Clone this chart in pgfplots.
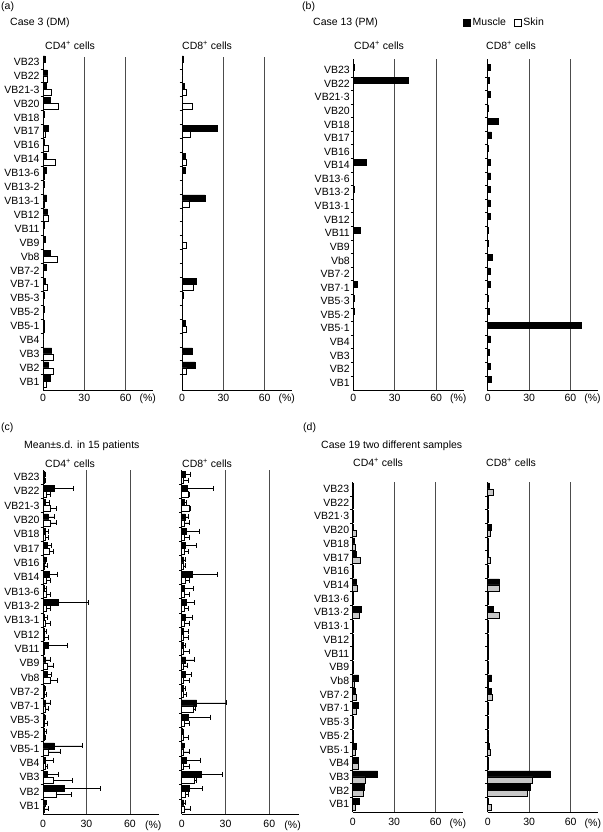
\documentclass[border=0pt]{standalone}
\usepackage{fontspec}
\setmainfont{Liberation Sans}
\usepackage{pgfplots}
\usepackage{pgfplotstable}
\pgfplotsset{compat=1.18}

\newcommand\fs{\fontsize{10.5pt}{12pt}\selectfont}

% rows: 1 = VB1 (bottom) ... 24 = VB23 (top)
\pgfplotstableread{
y m4 s4 m8 s8
1 5.3 2.4 0.3 0.3
2 3.9 7.7 9.4 3.4
3 6.3 7.5 7.5 0.5
4 0.5 0.5 0.3 0.3
5 0.7 1.2 2.0 3.0
6 1.0 0.5 0.5 0.3
7 1.0 0.5 0.7 0.3
8 1.5 3.4 10.4 8.2
9 2.7 0.5 0.3 0.3
10 5.1 10.7 0.3 0.3
11 1.5 0.5 0.5 3.0
12 1.0 0.5 0.3 0.3
13 3.1 3.6 0.5 0.3
14 2.7 0.7 16.7 5.0
15 1.0 0.5 0.3 0.3
16 2.7 1.0 2.0 0.5
17 2.7 9.2 2.0 3.0
18 1.0 4.1 0.3 0.3
19 4.1 1.7 25.9 6.3
20 0.7 0.5 0.3 0.3
21 5.6 10.9 0.3 7.5
22 2.2 6.3 1.5 3.0
23 3.1 3.4 0.5 0.3
24 1.5 0.3 1.0 0.3
}\dataA

\pgfplotstableread{
y m4 m8
1 0 2.7
2 0 2.0
3 0 1.2
4 0 2.0
5 0 67.5
6 0.7 1.0
7 0.7 0.7
8 2.9 2.0
9 0 1.5
10 0 3.4
11 0 0.7
12 5.1 0.3
13 0 2.0
14 0 1.5
15 1.0 1.7
16 0 2.2
17 9.4 2.2
18 0 0.7
19 0 2.7
20 0 7.5
21 0 0.7
22 0 1.7
23 39.5 1.2
24 0.7 2.2
}\dataB

\pgfplotstableread{
y m4 m4e s4 s4e m8 m8e s8 s8e
1 1.4 1.1 1.1 2.3 1.4 1.3 1.8 3.9
2 14.4 25.2 8.9 10.8 5.0 9.1 2.3 2.2
3 3.2 7.3 7.1 13.3 13.2 14.5 8.6 1.6
4 1.8 5.3 1.4 1.6 3.2 9.3 1.4 3.6
5 7.8 19.2 3.7 8.4 0.9 0.9 1.1 3.9
6 0.9 1.2 0.9 0.7 0.5 0.9 1.1 3.4
7 0.9 0.7 1.1 1.9 4.5 14.8 1.8 3.2
8 1.8 3.0 1.8 1.9 10.2 20.5 8.0 1.1
9 0.9 0.9 0.9 1.6 0.9 1.4 0.9 2.5
10 3.0 3.0 4.8 5.0 2.3 4.1 1.4 3.6
11 1.8 3.0 3.0 4.1 2.7 5.9 1.4 2.7
12 3.7 13.0 0.6 0.6 0.9 1.4 0.9 4.1
13 0.9 1.4 1.1 2.8 1.4 3.1 1.4 3.1
14 1.1 1.6 1.6 3.2 2.3 5.0 1.6 3.4
15 10.5 20.5 2.1 2.7 3.2 5.4 1.6 2.9
16 0.9 1.2 2.1 2.7 1.8 6.2 1.6 3.4
17 4.4 5.4 2.1 2.9 7.3 17.2 2.3 2.7
18 1.4 1.1 1.1 1.9 1.1 1.2 1.1 1.6
19 3.0 3.0 4.1 2.8 2.7 7.5 1.6 2.9
20 1.4 2.3 1.4 2.3 3.0 9.0 1.6 3.4
21 3.4 4.2 4.8 4.6 2.3 2.2 1.6 3.4
22 1.8 2.6 4.8 4.6 1.6 1.8 5.0 0.7
23 7.6 13.5 2.1 2.7 4.1 17.5 4.5 0.5
24 0.9 0.5 0.9 0.9 2.3 3.4 1.1 3.4
}\dataC

\pgfplotstableread{
y m4 g4 m8 g8
1 4.8 1.9 0.5 2.7
2 8.4 7.7 31.0 28.3
3 18.0 8.9 45.2 32.4
4 4.1 3.8 0.5 0.3
5 2.4 1.9 1.2 1.5
6 0.5 0.3 0.5 0.3
7 0.7 0.3 0.5 0.3
8 3.8 2.4 0.5 0.3
9 1.9 2.4 2.4 3.6
10 4.3 1.4 2.9 0.3
11 0.3 0.3 0.3 0.3
12 0.3 0.3 0.5 0.3
13 0.3 0.3 0.5 0.3
14 0.7 0.3 0.5 0.3
15 6.2 4.6 4.1 8.0
16 0.7 0.3 0.5 0.3
17 2.6 3.4 8.5 8.5
18 0.7 0.3 0.3 0.3
19 2.9 5.3 0.5 1.7
20 1.2 1.7 0.7 0.3
21 0.7 2.4 2.4 1.5
22 0.7 0.3 0.5 0.3
23 0.3 0.3 0.7 0.3
24 0.3 0.3 1.2 4.1
}\dataD

\pgfplotsset{
  vb/.style={
    scale only axis, xbar, bar width=6pt,
    xmin=0, xmax=80,
    axis x line*=bottom, axis y line*=left,
    axis line style={line width=0.7pt, -},
    xtick={0,30,60}, xmajorgrids,
    major grid style={draw=black!70, line width=0.7pt},
    extra x ticks={76}, extra x tick labels={(\%)},
    extra x tick style={grid=none},
    ytick={1,...,24}, minor ytick={1.5,2.5,...,23.5},
    major tick length=0pt, minor tick length=2.5pt,
    tick align=outside, ytick pos=left, xtick pos=bottom,
    tick style={line width=0.6pt, black},
    ticklabel style={font=\fs},
    /pgf/number format/assume math mode=true,
    clip=false,
  },
  labA/.style={yticklabels={VB1,VB2,VB3,VB4,VB5-1,VB5-2,VB5-3,VB7-1,VB7-2,Vb8,VB9,VB11,VB12,VB13-1,VB13-2,VB13-6,VB14,VB16,VB17,VB18,VB20,VB21-3,VB22,VB23}},
  labB/.style={yticklabels={VB1,VB2,VB3,VB4,VB5·1,VB5·2,VB5·3,VB7·1,VB7·2,Vb8,VB9,VB11,VB12,VB13·1,VB13·2,VB13·6,VB14,VB16,VB17,VB18,VB20,VB21·3,VB22,VB23}},
  nolab/.style={yticklabels={}},
  mus/.style={fill=black, draw=black, line width=0.5pt, bar shift=3pt},
  ski/.style={fill=white, draw=black, line width=0.5pt, bar shift=-3pt},
  gra/.style={fill=black!22, draw=black, line width=0.5pt, bar shift=-3pt},
  eb/.style={error bars/.cd, x dir=plus, x explicit, error mark=|,
    error bar style={line width=0.5pt, black},
    error mark options={black, mark size=2.5pt, line width=0.6pt}},
}

\begin{document}
\begin{tikzpicture}[every node/.style={font=\fs}]
\useasboundingbox (0,0) rectangle (602pt,832pt);

% ---- (a)
\node[anchor=west, inner sep=0] at (1pt,825pt) {(a)};
\node[anchor=west, inner sep=0] at (10pt,809pt) {Case 3 (DM)};
\node[anchor=west, inner sep=0] at (45pt,787pt) {CD4\textsuperscript{+} cells};
\node[anchor=west, inner sep=0] at (182pt,787pt) {CD8\textsuperscript{+} cells};
\begin{axis}[vb, labA, at={(43pt,441.3pt)}, anchor=south west,
  width=110.2pt, height=333.7pt, ymin=0.35, ymax=24.35]
\addplot[mus] table[x=m4, y=y] {\dataA};
\addplot[ski] table[x=s4, y=y] {\dataA};
\end{axis}
\begin{axis}[vb, nolab, at={(182pt,441.3pt)}, anchor=south west,
  width=110.3pt, height=333.7pt, ymin=0.35, ymax=24.35]
\addplot[mus] table[x=m8, y=y] {\dataA};
\addplot[ski] table[x=s8, y=y] {\dataA};
\end{axis}

% ---- (b)
\node[anchor=west, inner sep=0] at (302pt,825pt) {(b)};
\node[anchor=west, inner sep=0] at (313pt,809pt) {Case 13 (PM)};
\node[anchor=west, inner sep=0] at (354pt,787pt) {CD4\textsuperscript{+} cells};
\node[anchor=west, inner sep=0] at (486pt,787pt) {CD8\textsuperscript{+} cells};
\begin{axis}[vb, labB, at={(353.3pt,441.3pt)}, anchor=south west,
  width=110.4pt, height=331.4pt, ymin=0.41, ymax=24.79]
\addplot[mus] table[x=m4, y=y] {\dataB};
\end{axis}
\begin{axis}[vb, nolab, at={(487.7pt,441.3pt)}, anchor=south west,
  width=110.4pt, height=331.4pt, ymin=0.41, ymax=24.79,
  legend style={at={(-0.224,1.11)}, anchor=west, draw=none, fill=none,
    inner sep=0pt, font=\fs, legend columns=2,
    /tikz/every even column/.append style={column sep=6pt}},
  legend image code/.code={\draw[#1] (0pt,-3.5pt) rectangle (7pt,3.5pt);}]
\addplot[mus, forget plot] table[x=m8, y=y] {\dataB};
\addlegendimage{fill=black, draw=black, line width=0.5pt}
\addlegendentry{Muscle}
\addlegendimage{fill=white, draw=black, line width=0.5pt}
\addlegendentry{Skin}
\end{axis}

% ---- (c)
\node[anchor=west, inner sep=0] at (1pt,404pt) {(c)};
\node[anchor=west, inner sep=0] at (24pt,386pt) {Mean±s.d. in 15 patients};
\node[anchor=west, inner sep=0] at (45pt,369pt) {CD4\textsuperscript{+} cells};
\node[anchor=west, inner sep=0] at (182pt,369pt) {CD8\textsuperscript{+} cells};
\begin{axis}[vb, labA, at={(43pt,18pt)}, anchor=south west,
  width=116pt, height=344pt, ymin=0.44, ymax=24.49, xticklabel shift=3pt]
\addplot[mus, eb] table[x=m4, y=y, x error=m4e] {\dataC};
\addplot[ski, eb] table[x=s4, y=y, x error=s4e] {\dataC};
\end{axis}
\begin{axis}[vb, nolab, at={(181.7pt,18pt)}, anchor=south west,
  width=116.8pt, height=344pt, ymin=0.44, ymax=24.49, xticklabel shift=3pt]
\addplot[mus, eb] table[x=m8, y=y, x error=m8e] {\dataC};
\addplot[ski, eb] table[x=s8, y=y, x error=s8e] {\dataC};
\end{axis}

% ---- (d)
\node[anchor=west, inner sep=0] at (303pt,404pt) {(d)};
\node[anchor=west, inner sep=0] at (321pt,386pt) {Case 19 two different samples};
\node[anchor=west, inner sep=0] at (353pt,370pt) {CD4\textsuperscript{+} cells};
\node[anchor=west, inner sep=0] at (486pt,370pt) {CD8\textsuperscript{+} cells};
\begin{axis}[vb, labB, at={(352.7pt,20pt)}, anchor=south west,
  width=110.7pt, height=330.3pt, ymin=0.44, ymax=24.53, xticklabel shift=3pt]
\addplot[mus] table[x=m4, y=y] {\dataD};
\addplot[gra] table[x=g4, y=y] {\dataD};
\end{axis}
\begin{axis}[vb, nolab, at={(487.7pt,20pt)}, anchor=south west,
  width=110.7pt, height=330.3pt, ymin=0.44, ymax=24.53, xticklabel shift=3pt]
\addplot[mus] table[x=m8, y=y] {\dataD};
\addplot[gra] table[x=g8, y=y] {\dataD};
\end{axis}
\end{tikzpicture}
\end{document}
